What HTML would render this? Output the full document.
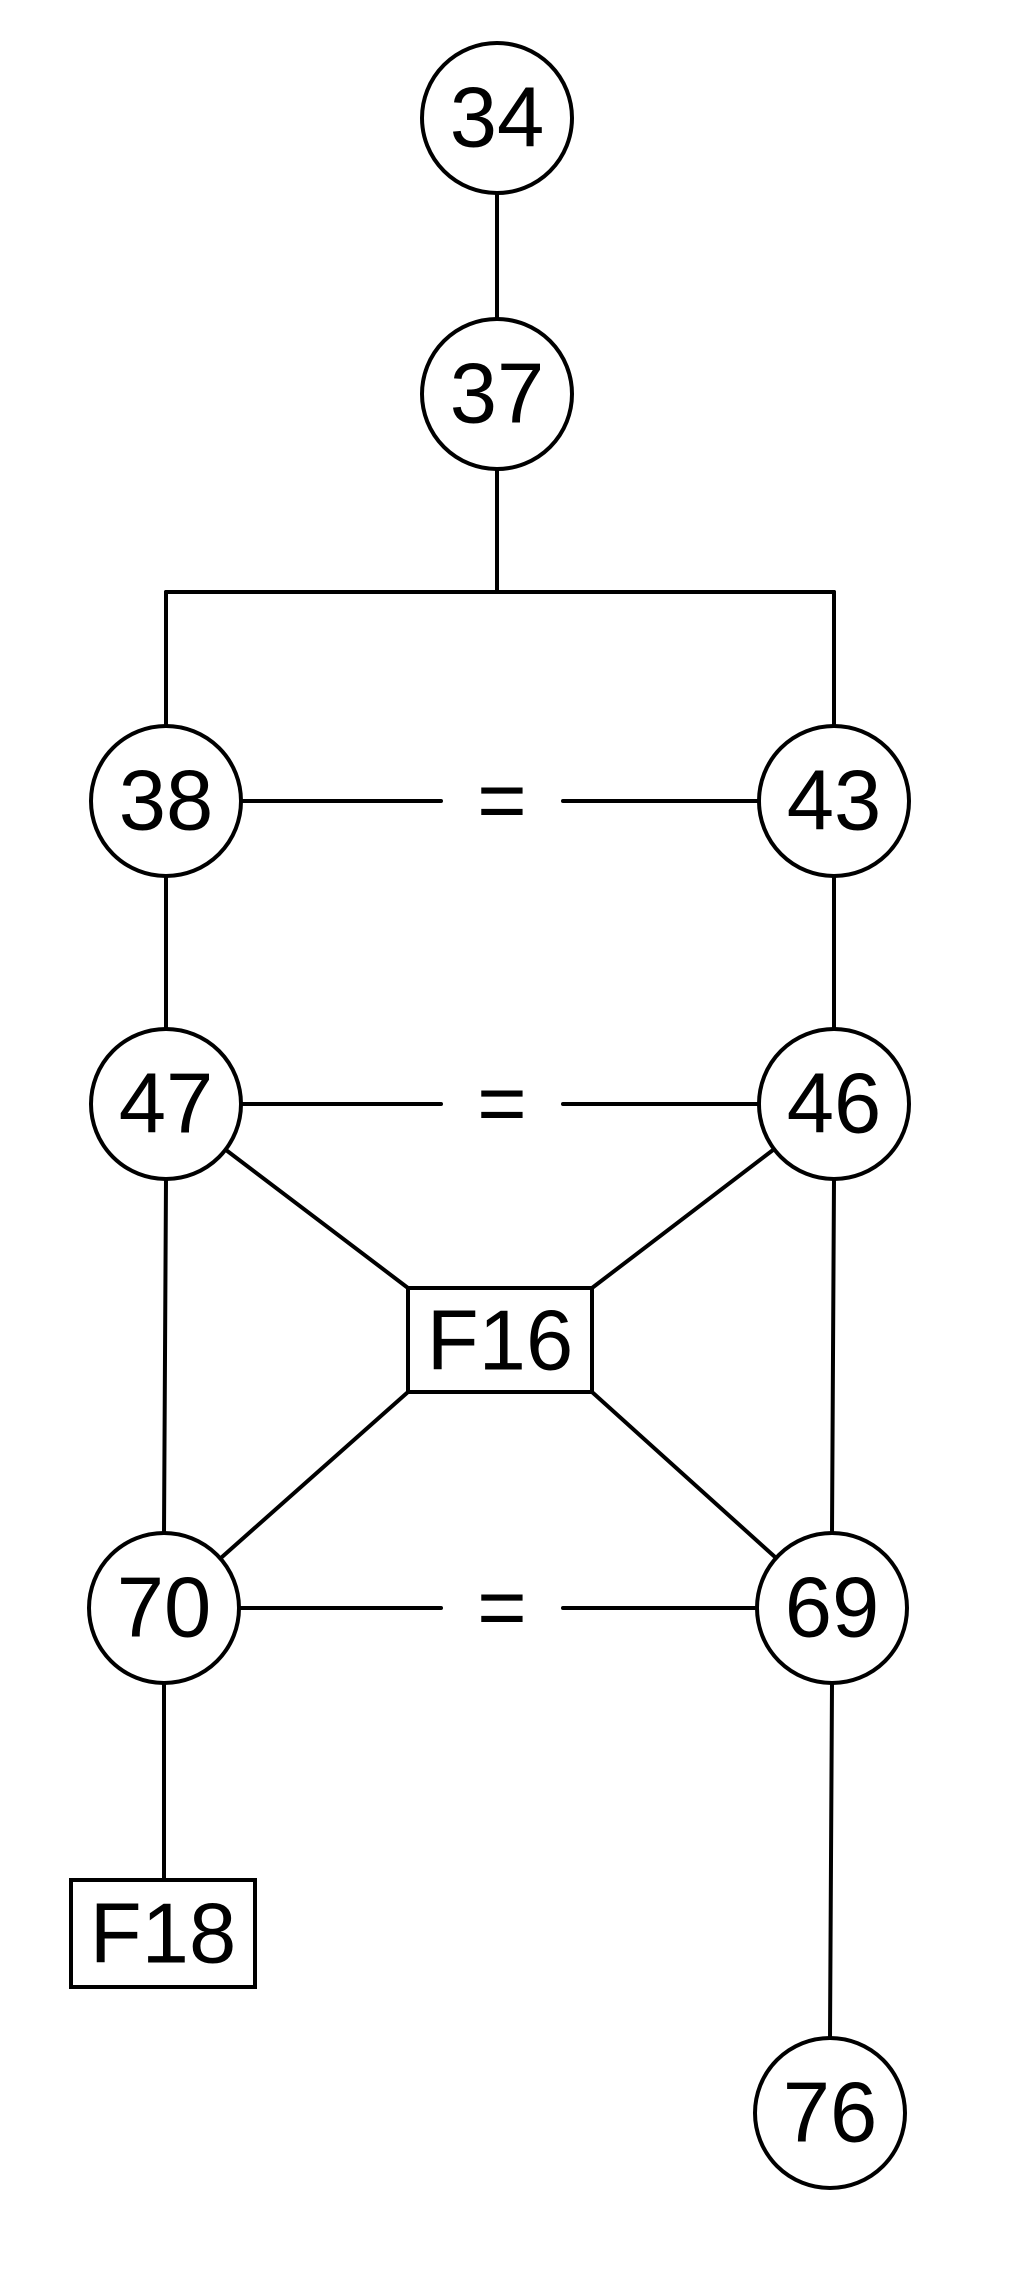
<!DOCTYPE html>
<html><head><meta charset="utf-8"><style>
html,body{margin:0;padding:0;background:#fff;}
svg{display:block;}
text{font-family:"Liberation Sans",Arial,sans-serif;font-size:85px;fill:#000;text-anchor:middle;dominant-baseline:central;}
</style></head><body>
<svg width="1024" height="2271" viewBox="0 0 1024 2271">
<g stroke="#000" stroke-width="4" stroke-linecap="round" fill="none">
<line x1="497" y1="193" x2="497" y2="318"/>
<line x1="497" y1="469" x2="497" y2="592"/>
<line x1="166" y1="592" x2="834" y2="592"/>
<line x1="166" y1="592" x2="166" y2="726"/>
<line x1="834" y1="592" x2="834" y2="726"/>
<line x1="241" y1="801" x2="441" y2="801"/>
<line x1="563" y1="801" x2="759" y2="801"/>
<line x1="241" y1="1104" x2="441" y2="1104"/>
<line x1="563" y1="1104" x2="759" y2="1104"/>
<line x1="239" y1="1608" x2="441" y2="1608"/>
<line x1="563" y1="1608" x2="757" y2="1608"/>
<line x1="166" y1="876" x2="166" y2="1029"/>
<line x1="834" y1="876" x2="834" y2="1029"/>
<line x1="166" y1="1179" x2="164" y2="1533"/>
<line x1="834" y1="1179" x2="832" y2="1533"/>
<line x1="226" y1="1150" x2="408" y2="1288"/>
<line x1="773" y1="1150" x2="592" y2="1288"/>
<line x1="408" y1="1392" x2="222" y2="1557"/>
<line x1="592" y1="1392" x2="775" y2="1557"/>
<line x1="164" y1="1683" x2="164" y2="1880"/>
<line x1="832" y1="1683" x2="830" y2="2038"/>
</g>
<g stroke="#000" stroke-width="4" fill="#fff">
<circle cx="497" cy="118" r="75"/>
<circle cx="497" cy="394" r="75"/>
<circle cx="166" cy="801" r="75"/>
<circle cx="834" cy="801" r="75"/>
<circle cx="166" cy="1104" r="75"/>
<circle cx="834" cy="1104" r="75"/>
<circle cx="164" cy="1608" r="75"/>
<circle cx="832" cy="1608" r="75"/>
<circle cx="830" cy="2113" r="75"/>
<rect x="408" y="1288" width="184" height="104"/>
<rect x="71" y="1880" width="184" height="107"/>
</g>
<text x="497" y="118">34</text>
<text x="497" y="394">37</text>
<text x="166" y="801">38</text>
<text x="834" y="801">43</text>
<text x="166" y="1104">47</text>
<text x="834" y="1104">46</text>
<text x="164" y="1608">70</text>
<text x="832" y="1608">69</text>
<text x="830" y="2113">76</text>
<text x="500" y="1341">F16</text>
<text x="163" y="1934">F18</text>
<text x="502" y="801">=</text>
<text x="502" y="1104">=</text>
<text x="502" y="1608">=</text>
</svg>
</body></html>
